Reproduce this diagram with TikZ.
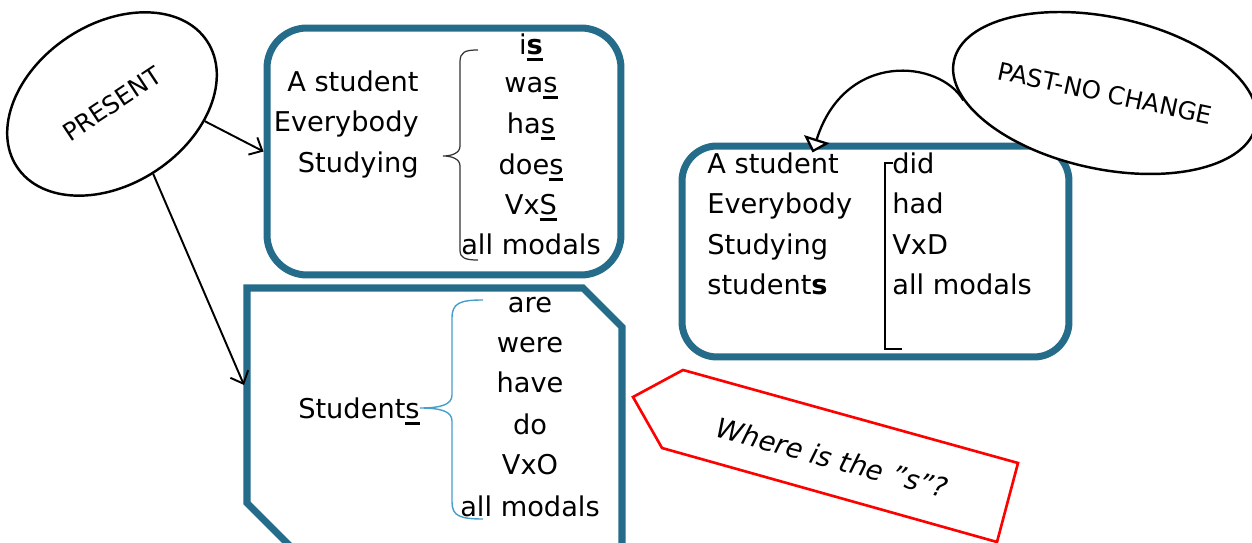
\documentclass[tikz,border=0pt]{standalone}
\usepackage{fontspec}
\setmainfont{DejaVu Sans}
\usetikzlibrary{arrows.meta,calc,shapes.geometric}

\definecolor{boxteal}{RGB}{37,107,138}
\definecolor{bracecyan}{RGB}{70,158,204}

% underlined letter, thick rule
\newcommand\sunder[1]{\setbox0\hbox{#1}\rlap{\rule[-3.2pt]{\wd0}{1.4pt}}#1}

\tikzset{
  tealbox/.style={draw=boxteal, line width=4pt, rounded corners=0.8cm},
  bubble/.style={draw, ellipse, line width=1.4pt, inner sep=0pt},
  word/.style={inner sep=0pt, font=\fontsize{15.5}{18}\selectfont},
  pointer/.style={-{Straight Barb[length=6pt,width=11pt]}, line width=1.1pt},
}

\begin{document}
\begin{tikzpicture}[x=0.02cm, y=-0.02cm]

	\useasboundingbox (0,0) rectangle (1252,543);
	\clip (0,0) rectangle (1252,543);

	% boxes
	\node [tealbox, minimum width=7.08cm, minimum height=4.94cm] (sgbox) at (444,151.5) {};
	\node [tealbox, minimum width=7.74cm, minimum height=4.22cm, rounded corners=0.7cm] (pastbox) at (875.5,251.5) {};
	\draw [boxteal, line width=4pt, line join=miter] (247,503) -- (247,288) -- (583,288) -- (622,327) -- (622,548) -- (292,548) -- cycle;
	\coordinate (plwest) at (244,385);

	% singular subjects
	\node [word, anchor=base east] (sg1) at (419,92) {A student};
	\node [word, anchor=base east] (sg2) at (419,132) {Everybody};
	\node [word, anchor=base east] (sg3) at (419,173) {Studying};
	\draw [line width=0.7pt, black!80] (478,50) .. controls (465,50) and (460,52) .. (460,62) -- (460,146) .. controls (460,153) and (452,156) .. (443,156) .. controls (452,156) and (460,159) .. (460,166) -- (460,250) .. controls (460,258) and (465,260) .. (478,260);
	\foreach \w/\y [count=\i] in {{i\textbf{\sunder{s}}}/55, {wa\sunder{s}}/93, {ha\sunder{s}}/134, {doe\sunder{s}}/175, {Vx\sunder{S}}/215, {all modals}/255}
		\node [word, anchor=base] (sgverb\i) at (531,\y) {\w};

	% plural subject
	\node [word, anchor=base east] (pl) at (420,419) {Student\sunder{s}};
	\draw [line width=0.8pt, bracecyan] (483,300) .. controls (460,300) and (452,303) .. (452,318) -- (452,395) .. controls (452,405) and (440,408) .. (420,408) .. controls (440,408) and (452,411) .. (452,421) -- (452,502) .. controls (452,516) and (460,519) .. (483,519);
	\foreach \w/\y [count=\i] in {are/313, were/353, have/393, do/435, VxO/475, {all modals}/517}
		\node [word, anchor=base] (plverb\i) at (530,\y) {\w};

	% past
	\foreach \w/\y [count=\i] in {{A student}/174, Everybody/214, Studying/255, {student\textbf{s}}/295}
		\node [word, anchor=base west] (pastsubj\i) at (707,\y) {\w};
	\draw [line width=0.7pt] (893,163) -- (885,163) -- (885,349) -- (902,349);
	\foreach \w/\y [count=\i] in {did/174, had/214, VxD/255, {all modals}/295}
		\node [word, anchor=base west] (pastverb\i) at (892,\y) {\w};

	% bubbles
	\node [bubble, rotate=33.5, minimum width=4.56cm, minimum height=3.2cm, font=\fontsize{14}{16}\selectfont] (present) at (112,104) {PRESENT};
	\node [bubble, fill=white, rotate=-12, minimum width=6.08cm, minimum height=3.04cm, font=\fontsize{14}{16}\selectfont] (past) at (1105,93) {PAST-NO CHANGE};

	% arrows
	\draw [pointer] (present.-44) -- (sgbox.west);
	\draw [pointer] (present.-93) -- (plwest);
	\draw [-{Triangle[open,length=8pt,width=15pt,fill=white]}, line width=1.3pt] (past.195) .. controls (940,60) and (845,50) .. ($(pastbox.north west)+(134,10)$);

	% question
	\draw [red, line width=1.5pt, line join=miter] (633,397) -- (683,370) -- (1018,463) -- (997,542) -- (662,448) -- cycle;
	\node [word, rotate=-15, font=\fontsize{15.5}{18}\selectfont\itshape] (where) at (832,458) {Where is the \char"22 s\char"22 ?};

\end{tikzpicture}
\end{document}
